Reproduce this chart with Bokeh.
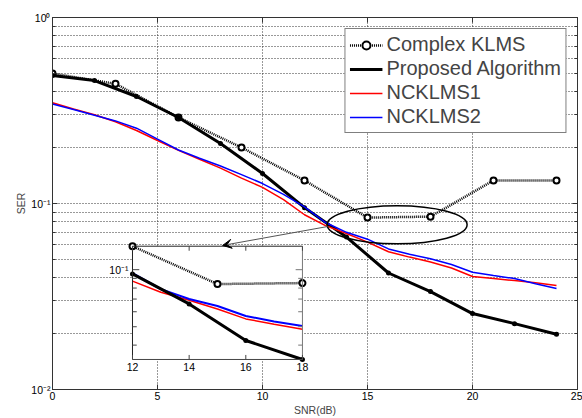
import math
from bokeh.plotting import figure
from bokeh.models import (Range1d, LogScale, FixedTicker, LinearAxis, LogAxis,
                          Legend, LegendItem, Arrow, VeeHead)
from bokeh.embed import file_html
from bokeh.resources import INLINE
from bokeh.core.properties import value

# ---------------- data ----------------
snr_klms = [0, 3, 6, 9, 12, 15, 18, 21, 24]
ser_klms = [0.50, 0.44, 0.29, 0.20, 0.133, 0.084, 0.085, 0.133, 0.133]

snr_prop = [0, 2, 4, 6, 8, 10, 12, 14, 16, 18, 20, 22, 24]
ser_prop = [0.488, 0.458, 0.376, 0.29, 0.21, 0.145, 0.095, 0.066, 0.0423,
            0.0336, 0.0256, 0.0226, 0.0198]

snr_nc = list(range(0, 25))
ser_nc1 = [0.348, 0.322, 0.300, 0.275, 0.247, 0.218, 0.193, 0.173, 0.155,
           0.137, 0.122, 0.105, 0.087, 0.076, 0.069, 0.062, 0.055, 0.0515,
           0.0485, 0.045, 0.0405, 0.0395, 0.0385, 0.0375, 0.0362]
ser_nc2 = [0.343, 0.320, 0.298, 0.278, 0.254, 0.222, 0.194, 0.175, 0.159,
           0.143, 0.128, 0.112, 0.096, 0.079, 0.070, 0.0643, 0.057, 0.0533,
           0.0505, 0.047, 0.0427, 0.041, 0.0395, 0.037, 0.0349]

labels = ["Complex KLMS", "Proposed Algorithm", "NCKLMS1", "NCKLMS2"]

x_ticks = [0, 5, 10, 15, 20, 25]
y_major = [0.01, 0.1, 1]
y_minor = [m * d for d in (0.01, 0.1) for m in range(2, 10)]
y_tick_labels = {0.01: "10\u207b\u00b2", 0.1: "10\u207b\u00b9", 1: "10\u2070"}

inset_x = [12, 18]
inset_y = [0.0336, 0.133]
inset_x_ticks = [12, 14, 16, 18]
inset_y_major = [0.1]
inset_y_minor = [0.04, 0.05, 0.06, 0.07, 0.08, 0.09]

FONT = "Liberation Sans"

p = figure(width=582, height=418, x_range=Range1d(0, 25), y_range=Range1d(0.01, 1),
           y_axis_type="log", output_backend="svg", toolbar_location=None,
           min_border_left=52, min_border_right=5, min_border_top=17,
           min_border_bottom=28, x_axis_label="SNR(dB)", y_axis_label="SER")
p.background_fill_color = "white"
p.border_fill_color = "white"
p.outline_line_color = "#333333"

# axes
p.xaxis.ticker = FixedTicker(ticks=x_ticks)
p.yaxis.ticker = FixedTicker(ticks=y_major, minor_ticks=y_minor)
p.yaxis.major_label_overrides = y_tick_labels
for ax in (p.xaxis[0], p.yaxis[0]):
    ax.major_tick_in = 5
    ax.major_tick_out = 0
    ax.minor_tick_in = 3
    ax.minor_tick_out = 0
    ax.axis_line_color = "#333333"
    ax.major_tick_line_color = "#333333"
    ax.minor_tick_line_color = "#333333"
    ax.major_label_text_font = FONT
    ax.major_label_text_font_size = "10.5px"
    ax.major_label_text_color = "black"
    ax.axis_label_text_font = FONT
    ax.axis_label_text_font_size = "10.5px"
    ax.axis_label_text_font_style = "normal"
    ax.major_label_standoff = 2
    ax.axis_label_standoff = 1

top_ax = LinearAxis(ticker=FixedTicker(ticks=x_ticks), major_tick_in=5, major_tick_out=0,
                    minor_tick_in=0, minor_tick_out=0,
                    major_label_overrides={t: "" for t in x_ticks},
                    major_label_standoff=0, axis_line_color="#333333",
                    major_tick_line_color="#333333")
right_ax = LogAxis(ticker=FixedTicker(ticks=y_major, minor_ticks=y_minor), major_tick_in=5,
                   major_tick_out=0, minor_tick_in=3, minor_tick_out=0,
                   major_label_overrides={t: "" for t in y_major},
                   major_label_standoff=0, axis_line_color="#333333",
                   major_tick_line_color="#333333", minor_tick_line_color="#333333")
p.add_layout(top_ax, "above")
p.add_layout(right_ax, "right")

# grid
p.xgrid.ticker = FixedTicker(ticks=x_ticks)
p.ygrid.ticker = FixedTicker(ticks=y_major + y_minor)
for g in (p.xgrid[0], p.ygrid[0]):
    g.grid_line_color = "#333333"
    g.grid_line_dash = "1 2"
    g.grid_line_width = 1

# main series
r_k_line = p.line(snr_klms, ser_klms, line_color="black", line_width=2.5, line_dash="1 1")
r_k_pts = p.scatter(snr_klms, ser_klms, marker="circle", size=6, line_color="black",
                    line_width=2, fill_color="white")
r_p_line = p.line(snr_prop, ser_prop, line_color="black", line_width=3)
r_p_pts = p.scatter(snr_prop, ser_prop, marker="circle", size=5, line_color=None,
                    fill_color="black")
r_n1 = p.line(snr_nc, ser_nc1, line_color="red", line_width=1.5)
r_n2 = p.line(snr_nc, ser_nc2, line_color="blue", line_width=1.5)

# ellipse highlighting region + arrow to inset
p.ellipse(x=[16.41], y=[0.0769], width=140, height=38, width_units="screen",
          height_units="screen", fill_color=None, line_color="black", line_width=1.5)
p.add_layout(Arrow(end=VeeHead(size=9, fill_color="black", line_color="black", line_width=1),
                   x_start=13.1, y_start=0.0752, x_end=8.1, y_end=0.0595,
                   line_color="#555555", line_width=1))

# ---------------- inset (drawn on extra ranges) ----------------
p.extra_x_ranges = {"ins": Range1d(9.176, 27.71)}
p.extra_y_ranges = {"ins": Range1d(0.02333, 2.14)}
p.extra_y_scales = {"ins": LogScale()}
kw = dict(x_range_name="ins", y_range_name="ins")

x0, x1 = inset_x
y0, y1 = inset_y
p.quad(left=[x0], right=[x1], bottom=[y0], top=[y1], fill_color="white", line_color=None, **kw)

def sub(xs, ys):
    pts = [(a, b) for a, b in zip(xs, ys) if x0 <= a <= x1]
    return [a for a, _ in pts], [b for _, b in pts]

kx, ky = sub(snr_klms, ser_klms)
px_, py_ = sub(snr_prop, ser_prop)
n1x, n1y = sub(snr_nc, ser_nc1)
n2x, n2y = sub(snr_nc, ser_nc2)
p.line(n1x, n1y, line_color="red", line_width=1.5, **kw)
p.line(n2x, n2y, line_color="blue", line_width=2, **kw)
p.line(px_, py_, line_color="black", line_width=3, **kw)
p.scatter(px_, py_, marker="circle", size=5, line_color=None, fill_color="black", **kw)
p.line(kx, ky, line_color="black", line_width=2.5, line_dash="1 1", **kw)
p.scatter(kx, ky, marker="circle", size=6, line_color="black", line_width=2,
          fill_color="white", **kw)

# inset box
p.segment(x0=[x0, x0, x0, x1], y0=[y0, y1, y0, y0], x1=[x0, x1, x1, x1], y1=[y1, y1, y0, y1],
          line_color=["#222222", "#222222", "#444444", "#777777"], line_width=1, **kw)

# inset ticks
ly = math.log10(y1) - math.log10(y0)
tky = 10 ** (ly * 0.04)
tkx = (x1 - x0) * 0.025
p.segment(x0=inset_x_ticks, y0=[y0] * 4, x1=inset_x_ticks, y1=[y0 * tky] * 4,
          line_color="#444444", **kw)
p.segment(x0=inset_x_ticks, y0=[y1] * 4, x1=inset_x_ticks, y1=[y1 / tky] * 4,
          line_color="#444444", **kw)
yt = inset_y_major + inset_y_minor
lens = [tkx * 1.6] * len(inset_y_major) + [tkx] * len(inset_y_minor)
p.segment(x0=[x0] * len(yt), y0=yt, x1=[x0 + l for l in lens], y1=yt,
          line_color="#444444", **kw)
p.segment(x0=[x1] * len(yt), y0=yt, x1=[x1 - l for l in lens], y1=yt,
          line_color="#777777", **kw)

p.text(x=inset_x_ticks, y=[y0] * 4, text=[str(t) for t in inset_x_ticks], y_offset=4,
       text_align="center", text_baseline="top", text_font=value(FONT),
       text_font_size="10.5px", text_color="black", **kw)
p.text(x=[x0], y=[0.1], text=["10\u207b\u00b9"], x_offset=-4, text_align="right",
       text_baseline="middle", text_font=value(FONT), text_font_size="10.5px",
       text_color="black", **kw)

# legend
legend = Legend(items=[
    LegendItem(label=labels[0], renderers=[r_k_line, r_k_pts]),
    LegendItem(label=labels[1], renderers=[r_p_line]),
    LegendItem(label=labels[2], renderers=[r_n1]),
    LegendItem(label=labels[3], renderers=[r_n2]),
], location="top_right")
legend.label_text_font = FONT
legend.label_text_font_size = "20px"
legend.glyph_width = 33
legend.glyph_height = 20
legend.label_height = 20
legend.label_standoff = 4
legend.padding = 4
legend.spacing = 1
legend.margin = 11
legend.border_line_color = "black"
legend.border_line_width = 1
legend.background_fill_color = "white"
legend.background_fill_alpha = 1
p.add_layout(legend, "center")

open("out.html", "w").write(file_html(p, INLINE))
